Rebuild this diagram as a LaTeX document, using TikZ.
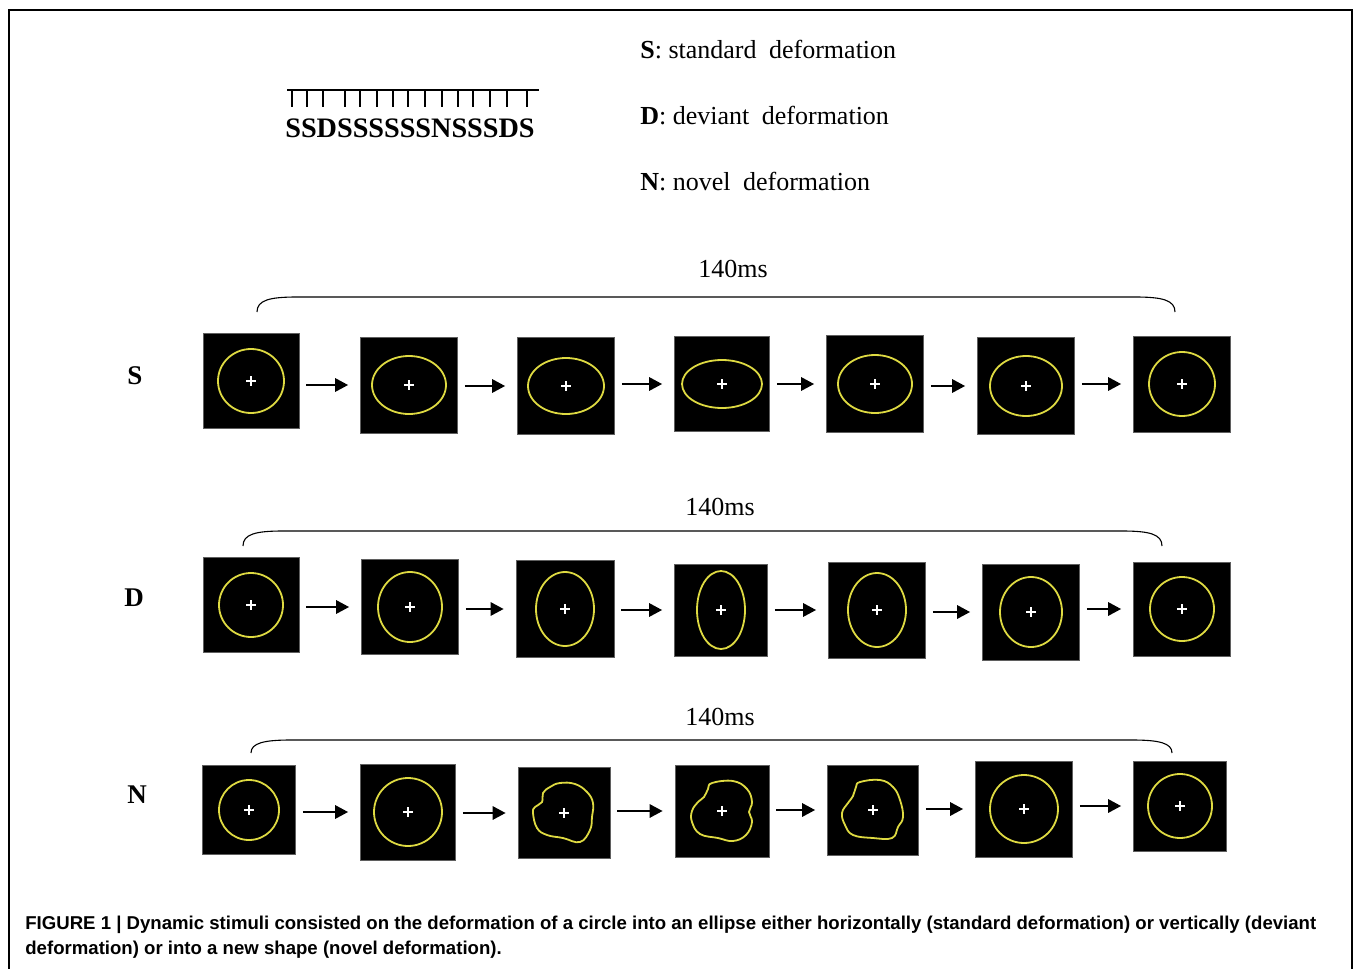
\documentclass[tikz,border=0pt]{standalone}
\usepackage{fontspec}
\setmainfont{Liberation Serif}
\newfontfamily\capfont{Liberation Sans}
\usetikzlibrary{arrows.meta}

\definecolor{ringyellow}{RGB}{222,218,66}
\definecolor{boxedge}{RGB}{95,95,95}

\tikzset{every picture/.style={line width=0.75pt}}
\tikzset{
  stimbox/.style={fill=black, draw=boxedge, line width=0.6pt, inner sep=0pt},
  ring/.style={draw=ringyellow, line width=1.8pt},
  fixplus/.style={draw=white, line width=1.8pt},
  nextarrow/.style={line width=2.8pt, -{Triangle[length=13pt,width=13pt]}, shorten <=7pt, shorten >=12pt},
  timespan/.style={line width=1.1pt},
  serifbig/.style={font=\fontsize{26}{26}\selectfont, inner sep=0pt},
  rowlabel/.style={font=\fontsize{27}{27}\selectfont\bfseries, inner sep=0pt, anchor=base},
  captext/.style={font=\capfont\bfseries\fontsize{18.6}{25}\selectfont, inner sep=0pt, anchor=base west}
}

\begin{document}
\begin{tikzpicture}[x=1pt,y=1pt,yscale=-1,xscale=1]
\useasboundingbox (0,0) rectangle (1355,969);

%Frame
\draw [line width=2pt] (9,969) -- (9,10) -- (1352,10) -- (1352,969) ;

%Sequence with ticks
\draw [line width=1.6pt] (287,90) -- (539,90) ;
\foreach \tx in {292,307,323,345,360,377,393,408,425,442,458,473,490,507,527}
  \draw [line width=1.6pt] (\tx,90) -- (\tx,107) ;
% Text Node
\node [font=\fontsize{28.2}{28.2}\selectfont\bfseries, inner sep=0pt, anchor=base west] (seq) at (285,137) {SSDSSSSSSNSSSDS};

% Legend
\node [serifbig, anchor=base west] (legS) at (640,58) {\textbf{S}: standard\hspace{6pt} deformation};
\node [serifbig, anchor=base west] (legD) at (640,124) {\textbf{D}: deviant\hspace{6pt} deformation};
\node [serifbig, anchor=base west] (legN) at (640,190) {\textbf{N}: novel\hspace{6pt} deformation};

%Row labels
\node [rowlabel] (labS) at (135,384) {S};
\node [rowlabel] (labD) at (134,606) {D};
\node [rowlabel] (labN) at (137,803) {N};

%Time spans
\draw [timespan] (257,312) .. controls (257,300) and (270,297) .. (297,297) -- (1135,297) .. controls (1162,297) and (1175,300) .. (1175,312) ;
\node [serifbig, anchor=base] (msS) at (733,277) {140ms};
\draw [timespan] (243,546) .. controls (243,534) and (256,531) .. (283,531) -- (1122,531) .. controls (1149,531) and (1162,534) .. (1162,546) ;
\node [serifbig, anchor=base] (msD) at (720,515) {140ms};
\draw [timespan] (251,753) .. controls (251,743) and (264,740) .. (291,740) -- (1132,740) .. controls (1159,740) and (1172,743) .. (1172,753) ;
\node [serifbig, anchor=base] (msN) at (720,725) {140ms};

%Stimulus frames
\foreach \nm/\px/\py/\w/\h in {
  s1/251/381/96/95, s2/409/385/97/96, s3/566/386/97/97, s4/722/384/95/95,
  s5/875/384/97/97, s6/1026/386/97/97, s7/1182/384/97/96,
  d1/251/605/96/95, d2/410/607/97/95, d3/565/609/98/97, d4/721/610/93/92,
  d5/877/610/97/96, d6/1031/612/97/96, d7/1182/609/97/94,
  n1/249/810/93/89, n2/408/812/95/96, n3/564/813/92/91, n4/722/811/94/92,
  n5/873/810/91/90, n6/1024/809/97/96, n7/1180/806/93/90}
  \node [stimbox, minimum width=\w pt, minimum height=\h pt] (\nm) at (\px,\py) {};

%Shape: Ellipses
\foreach \nm/\rx/\ry in {
  s1/33/32, s2/37/29, s3/38/28, s4/40/24, s5/37/29, s6/36/30, s7/33/32,
  d1/32/32, d2/32/35, d3/29/37, d4/24/39, d5/29/37, d6/31/35, d7/32/32,
  n1/30/30, n2/34/34, n6/34/34, n7/32/32}
  \draw [ring] (\nm.center) ellipse [x radius=\rx pt, y radius=\ry pt] ;

%Shape: Novel contours
\draw [ring, shift={(n3.center)}] plot [smooth cycle, tension=0.7] coordinates {
  (-21,-20) (-14,-26) (-4,-30) (11,-29) (23,-21) (29,-10) (28,4) (26,17)
  (16,29) (-1,25) (-17,22) (-27,15) (-31,0) (-29,-6) (-22,-11)} ;
\draw [ring, shift={(n4.center)}] plot [smooth cycle, tension=0.7] coordinates {
  (-10,-28) (11,-30) (25,-22) (30,-9) (27,1) (30,11) (24,24) (11,30) (-4,27)
  (-22,23) (-30,11) (-30,0) (-24,-9) (-18,-14) (-14,-22)} ;
\draw [ring, shift={(n5.center)}] plot [smooth cycle, tension=0.7] coordinates {
  (-13,-28) (7,-30) (20,-23) (27,-10) (30,7) (25,17) (19,28) (0,28) (-20,25)
  (-28,15) (-31,3) (-25,-7) (-20,-14) (-17,-23)} ;

%Fixation crosses
\foreach \r in {s,d,n}
  \foreach \i in {1,...,7}
    \draw [fixplus, shift={(\r\i.center)}] (-5,0) -- (5,0) (0,-5) -- (0,5) ;

%Arrows between frames
\foreach \r in {s,d,n}
  \foreach \a/\b in {1/2,2/3,3/4,4/5,5/6,6/7}
    \draw [nextarrow] (\r\a.east |- \r\b.west) -- (\r\b.west) ;

% Caption
\node [captext] (cap1) at (25,929) {FIGURE 1 | Dynamic stimuli consisted on the deformation of a circle into an ellipse either horizontally (standard deformation) or vertically (deviant};
\node [captext] (cap2) at (25,954) {deformation) or into a new shape (novel deformation).};

\end{tikzpicture}
\end{document}
